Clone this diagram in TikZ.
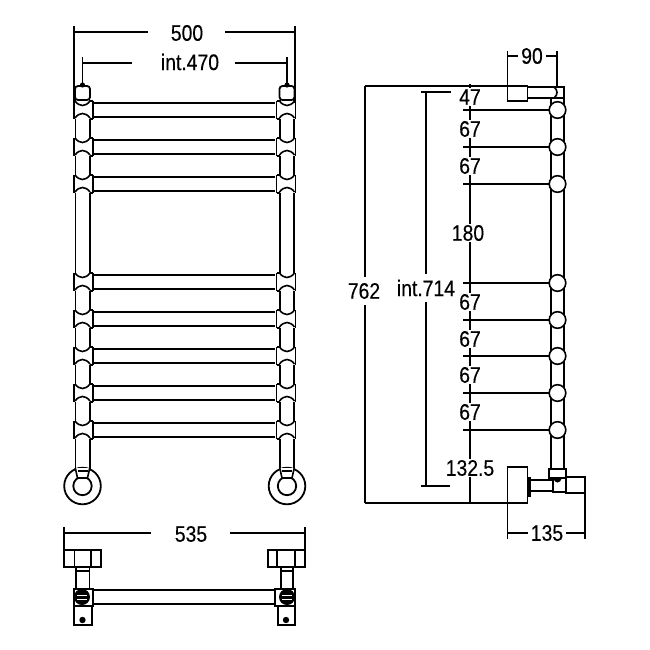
\documentclass[tikz,border=0pt]{standalone}
\usepackage{fontspec}
\setmainfont[FakeStretch=0.86,FakeBold=0.25]{Liberation Sans}
\tikzset{
  x=1bp,y=-1bp,
  part/.style={draw=black,line width=1.6bp,line join=miter},
  dimline/.style={draw=black,line width=1.3bp},
  dimtext/.style={font=\fontsize{22.5bp}{24bp}\selectfont,inner sep=0pt,text=black},
}
\newcommand{\collar}[3]{% centre x, sign toward the rail, rail top y
  \fill[white] ({#1-#2*8.5},{#3-2}) rectangle ({#1+#2*10.5},{#3+16});
  \draw[part] ({#1-#2*8.5},{#3-2}) -- ({#1-#2*8.5},{#3+16});
  \draw[part] ({#1+#2*10.5},{#3-2}) -- ({#1+#2*10.5},{#3+16});
  \draw[part] ({#1+#2*7},{#3-2}) -- ({#1+#2*10.5},{#3-2});
  \draw[part] ({#1+#2*7},{#3+16}) -- ({#1+#2*10.5},{#3+16});
  \draw[part] ({#1-7.5},{#3-2}) .. controls ({#1-3},{#3+4}) and ({#1+3},{#3+4}) .. ({#1+7.5},{#3-2});
  \draw[part] ({#1-7.5},{#3+15}) .. controls ({#1-3},{#3+9}) and ({#1+3},{#3+9}) .. ({#1+7.5},{#3+15});
}
\newcommand{\wallcap}[1]{% centre x
  \draw[part,line width=1.8bp,rounded corners=3bp,fill=white] ({#1-7.5},86) rectangle ({#1+7.5},100);
  \fill ({#1},85) circle (2.6bp);
}
\newcommand{\foot}[1]{% centre x
  \draw[part,line width=1.8bp] (#1,486) circle (18.3bp);
  \draw[part,line width=1.8bp] (#1,486) circle (9.2bp);
  \draw[part,fill=white] ({#1-7.2},468) -- ({#1-5},478) -- ({#1+5},478) -- ({#1+7.2},468);
  \draw[part] ({#1-5},471) -- ({#1+5},471);
}
\begin{document}
\begin{tikzpicture}
\useasboundingbox (0,0) rectangle (650,650);
\fill[white] (0,0) rectangle (650,650);

% ---------- front view ----------
\foreach \cx in {82.5,287}{
  \draw[part] ({\cx-7.2},100) -- ({\cx-7.2},469);
  \draw[part] ({\cx+7.2},100) -- ({\cx+7.2},469);
}
\foreach \ry in {103,140,177,275,312,349,386,423}{
  \draw[part] (93,\ry) -- (275,\ry);
  \draw[part] (93,\ry+14) -- (275,\ry+14);
  \collar{82.5}{1}{\ry}
  \collar{287}{-1}{\ry}
}
\wallcap{82.5}
\wallcap{287}
\foot{82.5}
\foot{287}

% front view dimensions
\node[dimtext] (t500) at (187,33) {500};
\node[dimtext] (t470) at (190,62) {int.470};
\draw[dimline] (74,26) -- (74,103);
\draw[dimline] (295,26) -- (295,103);
\draw[dimline] (74,32) -- (148,32);
\draw[dimline] (225,32) -- (295,32);
\draw[dimline] (82.5,57) -- (82.5,84);
\draw[dimline] (287,57) -- (287,84);
\draw[dimline] (82.5,63) -- (132,63);
\draw[dimline] (235,63) -- (287,63);

% ---------- plan view ----------
\node[dimtext] (t535) at (191,534) {535};
\draw[dimline] (64,527) -- (64,549);
\draw[dimline] (305,527) -- (305,549);
\draw[dimline] (64,533) -- (151,533);
\draw[dimline] (230,533) -- (305,533);
\draw[part] (93,590) -- (275,590);
\draw[part] (93,604) -- (275,604);
\foreach \bl/\br/\il/\ir/\sl/\sr/\col/\cl/\cr/\fl/\fr/\dx in
  {64/101/74.5/91/76/89.5/82/74/93/74/92/82.5,
   268/305/277/295/281/293/287/275/295/278/295/286}{
  \draw[part] (\bl,550) rectangle (\br,567);
  \draw[part] (\il,550) -- (\il,567);
  \draw[part] (\ir,550) -- (\ir,567);
  \draw[part] (\sl,567) -- (\sl,590);
  \draw[part] (\sr,567) -- (\sr,590);
  \draw[part] (\sl,571) -- (\sr,571);
  \draw[part,fill=white] (\cl,589) rectangle (\cr,606);
  \draw[part] (\fl,606) rectangle (\fr,625);
  \fill (\dx,620) circle (3.2bp);
  \fill[black] (\col,597) circle (8bp);
  \draw[white,line width=1bp] (\col-5,595.5) -- (\col+5,595.5);
  \draw[white,line width=1bp] (\col-5,599) -- (\col+5,599);
}

% ---------- side view ----------
\draw[part] (564,86) -- (564,470);
\draw[part] (551,98) -- (551,470);
\draw[part] (528,98) -- (564,98);
\draw[part] (528,87) -- (564,87);
\draw[part] (554,87) .. controls (558,90) and (558,95) .. (554,98);
\draw[part,fill=white] (507.5,86) rectangle (527.5,101);

\foreach \ly in {110,147,184,283,320,356,393,430}{
  \draw[dimline] (463,\ly) -- (551,\ly);
}
\foreach \ly in {110,147,184,283,320,356,393,430}{
  \draw[part,fill=white] (557.5,\ly) circle (8.3bp);
}

% wall fitting at the bottom of the side view
\draw[part,fill=white] (507.5,467) rectangle (527.5,503);
\fill (527.5,477) rectangle (530.5,497);
\draw[part] (530,480) -- (553,480);
\draw[part] (530,491) -- (553,491);
\draw[part,fill=white] (549,469) rectangle (566,478);
\draw[part,fill=white] (553,478) rectangle (566,492);
\fill (553,478) .. controls (555,484) and (560,484) .. (562,478) -- cycle;
\draw[part] (566,477) rectangle (585,493);

% side view dimensions
\node[dimtext] (t90) at (532,56) {90};
\draw[dimline] (507.5,51) -- (507.5,86);
\draw[dimline] (557,51) -- (557,87);
\draw[dimline] (507.5,56) -- (518,56);
\draw[dimline] (546,56) -- (557,56);

\node[dimtext] (t135) at (547,533) {135};
\draw[dimline] (507.5,503) -- (507.5,539);
\draw[dimline] (585,493) -- (585,539);
\draw[dimline] (507.5,533) -- (528,533);
\draw[dimline] (566,533) -- (585,533);

\draw[dimline] (365,86) -- (507.5,86);
\draw[dimline] (365,503) -- (507.5,503);
\draw[dimline] (365,86) -- (365,277);
\draw[dimline] (365,305) -- (365,503);
\node[dimtext] (t762) at (364,291) {762};

\draw[dimline] (421,92) -- (451,92);
\draw[dimline] (421,486) -- (450,486);
\draw[dimline] (426,92) -- (426,274);
\draw[dimline] (426,302) -- (426,486);
\node[dimtext,fill=white,inner sep=1pt] (t714) at (426,288) {int.714};

\draw[dimline] (470,84) -- (470,503);
\foreach \nm/\ty/\tx in {47/97/470,67/129/470,67/166/470,180/233/468,67/302/470,67/339/470,67/375/470,67/412/470,132.5/468/470}{
  \node[dimtext,fill=white,inner sep=1pt] at (\tx,\ty) {\nm};
}
\end{tikzpicture}
\end{document}
